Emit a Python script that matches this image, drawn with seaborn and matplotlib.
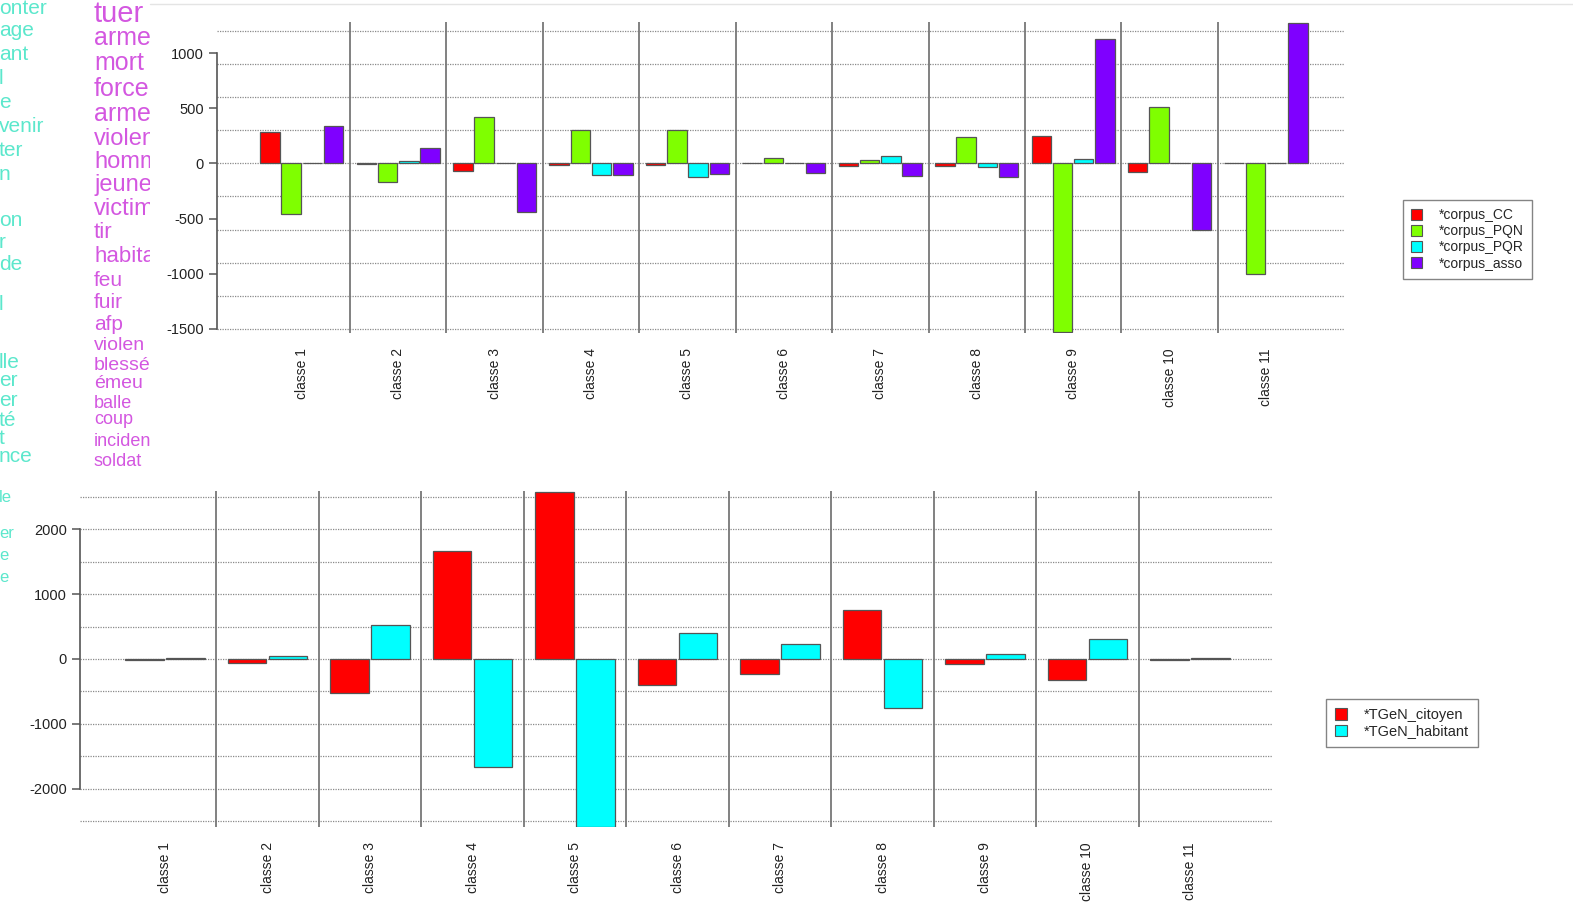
import numpy as np
import pandas as pd
import matplotlib
matplotlib.use("Agg")
import matplotlib.pyplot as plt
from matplotlib.patches import Patch
import seaborn as sns

sns.set_style("white")
plt.rcParams['font.family'] = ['Liberation Sans', 'DejaVu Sans']
plt.rcParams['axes.unicode_minus'] = False

classes = ["classe %d" % i for i in range(1, 12)]

# top chart: four corpora
corpus_names = ["*corpus_CC", "*corpus_PQN", "*corpus_PQR", "*corpus_asso"]
corpus_cc = [283, -5, -67, -15, -10, 0, -21, -24, 249, -79, 0]
corpus_pqn = [-461, -169, 421, 301, 301, 51, 30, 240, -1530, 511, -1000]
corpus_pqr = [0, 18, 0, -103, -121, 0, 69, -30, 42, 5, 2]
corpus_asso = [340, 141, -440, -103, -97, -85, -117, -127, 1129, -600, 1279]
corpus_colors = ["#ff0000", "#7fff00", "#00ffff", "#7f00ff"]

# bottom chart: two TGeN series
tgen_names = ["*TGeN_citoyen", "*TGeN_habitant"]
tgen_citoyen = [-15, -55, -530, 1670, 2580, -400, -230, 755, -80, -320, -20]
tgen_habitant = [10, 50, 530, -1670, -2585, 405, 230, -755, 80, 315, 15]
tgen_colors = ["#ff0000", "#00ffff"]

# word cloud fragments on the left
words_pink = ["tuer", "arme", "mort", "force", "arme", "violen", "homm", "jeune",
              "victim", "tir", "habita", "feu", "fuir", "afp", "violen", "blessé",
              "émeu", "balle", "coup", "incident", "soldat"]
words_pink_y = [14, 38, 63, 89, 114, 139, 162, 185, 209, 232, 256, 280, 303,
                325, 346, 365, 384, 403, 419, 442, 462]
words_pink_size = [21, 18, 18, 18, 18, 17, 17, 17, 17, 16, 16, 15, 15, 15,
                   14, 14, 14, 13, 13, 13, 13]
words_teal = ["onter", "age", "ant", "l", "e", "venir", "ter", "n", "on", "r",
              "de", "l", "lle", "er", "er", "té", "t", "nce", "le", "er", "e", "e"]
words_teal_y = [8, 30, 55, 78, 103, 127, 150, 174, 221, 243, 265, 305, 362,
                380, 400, 420, 438, 457, 497, 533, 556, 578]
words_teal_size = [15] * 18 + [12] * 4

df_top = pd.DataFrame({
    "classe": classes * 4,
    "corpus": np.repeat(corpus_names, len(classes)),
    "value": corpus_cc + corpus_pqn + corpus_pqr + corpus_asso,
})
df_bot = pd.DataFrame({
    "classe": classes * 2,
    "tgen": np.repeat(tgen_names, len(classes)),
    "value": tgen_citoyen + tgen_habitant,
})

W, H = 1573, 911
fig = plt.figure(figsize=(W / 100, H / 100), dpi=100)


def rect(x0, y0, x1, y1):
    return [x0 / W, 1 - y1 / H, (x1 - x0) / W, (y1 - y0) / H]


def style_axes(ax, lo, hi, major, grid_vals, ylim, xlim, pad):
    ax.set_xlim(*xlim)
    ax.set_ylim(*ylim)
    for v in grid_vals:
        ax.axhline(v, color="#8a8a8a", lw=0.9, ls=(0, (1, 1)), zorder=0)
    for k in range(len(classes) - 1):
        ax.axvline(k + 0.5, color="#777777", lw=1.3, zorder=0)
    for s in ["top", "right", "bottom"]:
        ax.spines[s].set_visible(False)
    ax.spines["left"].set_bounds(lo, hi)
    ax.spines["left"].set_color("#555555")
    ax.spines["left"].set_linewidth(1.2)
    ax.set_yticks(np.arange(lo, hi + 1, major))
    ax.tick_params(axis="y", length=6, width=1.1, color="#555555",
                   labelsize=10.5, labelcolor="#222222", direction="out", left=True)
    ax.tick_params(axis="x", length=0, pad=pad, labelsize=10, labelcolor="#222222")
    ax.set_xticks(range(len(classes)))
    ax.set_xticklabels(classes, rotation=90, va="top")
    ax.set_xlabel("")
    ax.set_ylabel("")
    if ax.get_legend() is not None:
        ax.get_legend().remove()


# word cloud panel
axw = fig.add_axes(rect(0, 0, 150, 620))
axw.set_xlim(0, 150)
axw.set_ylim(620, 0)
axw.axis("off")
axw.plot([150, 1573], [4, 4], color="#e4e4e4", lw=1, clip_on=False)
for w, y, s in zip(words_pink, words_pink_y, words_pink_size):
    axw.text(94, y, w, color="#cf45dd", fontsize=s, va="center", ha="left",
             clip_on=True, alpha=0.9)
for w, y, s in zip(words_teal, words_teal_y, words_teal_size):
    axw.text(-1, y, w, color="#3fe3c3", fontsize=s, va="center", ha="left",
             clip_on=True, alpha=0.85)

# top chart
ax1 = fig.add_axes(rect(217, 22, 1345, 333))
sns.barplot(data=df_top, x="classe", y="value", hue="corpus", order=classes,
            hue_order=corpus_names, palette=corpus_colors, width=0.88, gap=0.08,
            edgecolor="#555555", linewidth=0.9, saturation=1, ax=ax1, zorder=2)
style_axes(ax1, -1500, 1000, 500, np.arange(-1500, 1201, 300),
           (-1540, 1285), (-0.88, 10.82), 11)

# bottom chart
ax2 = fig.add_axes(rect(80, 491, 1273, 827))
sns.barplot(data=df_bot, x="classe", y="value", hue="tgen", order=classes,
            hue_order=tgen_names, palette=tgen_colors, width=0.8, gap=0.06,
            edgecolor="#555555", linewidth=0.9, saturation=1, ax=ax2, zorder=2)
style_axes(ax2, -2000, 2000, 1000, np.arange(-2500, 2501, 500),
           (-2590, 2590), (-0.83, 10.81), 11)

# legends
h1 = [Patch(facecolor=c, edgecolor="#555555", lw=0.8) for c in corpus_colors]
fig.legend(h1, corpus_names, loc="upper left", bbox_to_anchor=(1396 / W, 1 - 193 / H),
           frameon=True, fancybox=False, edgecolor="#666666", fontsize=10,
           handlelength=0.8, handleheight=0.8, labelspacing=0.15, borderpad=0.6,
           handletextpad=1.2)
h2 = [Patch(facecolor=c, edgecolor="#555555", lw=0.8) for c in tgen_colors]
fig.legend(h2, tgen_names, loc="upper left", bbox_to_anchor=(1319 / W, 1 - 692 / H),
           frameon=True, fancybox=False, edgecolor="#666666", fontsize=10.5,
           handlelength=0.8, handleheight=0.8, labelspacing=0.15, borderpad=0.6,
           handletextpad=1.2)

fig.savefig("out.png", dpi=100)
